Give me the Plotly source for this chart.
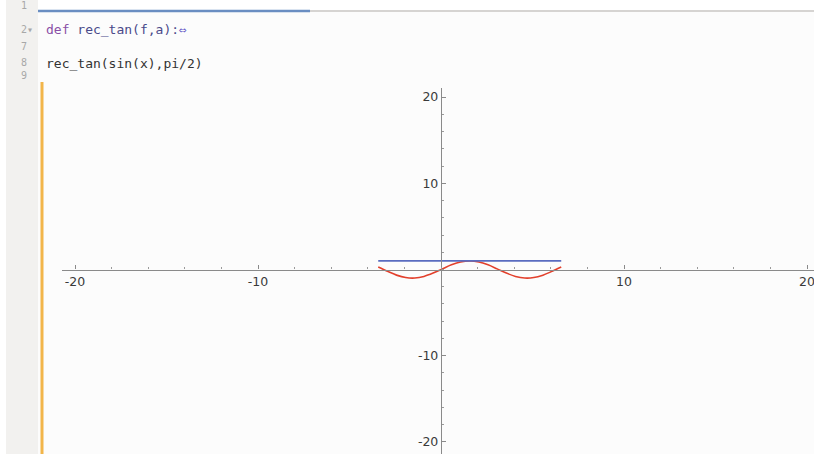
import plotly.graph_objects as go

# ---- data ----
curve_x = [-3.43, -2.93, -2.43, -1.93, -1.43, -0.93, -0.43, 0.07, 0.57, 1.07, 1.57,
           2.07, 2.57, 3.07, 3.57, 4.07, 4.57, 5.07, 5.57, 6.07, 6.57]
curve_y = [0.284, -0.210, -0.653, -0.936, -0.990, -0.802, -0.417, 0.070, 0.540, 0.877, 1.000,
           0.878, 0.541, 0.072, -0.415, -0.801, -0.990, -0.937, -0.654, -0.211, 0.283]
tangent_x = [-3.43, 6.57]
tangent_y = [1.0, 1.0]
x_ticks = [-20, -10, 10, 20]
x_tick_labels = ["-20", "-10", "10", "20"]
y_ticks = [-20, -10, 10, 20]
y_tick_labels = ["-20", "-10", "10", "20"]
line_numbers = ["1", "2▾", "7", "8", "9"]
line_number_y = [6, 30, 46, 63, 76]

W, H = 814, 454
x0_px, xscale = 441, 18.3
y0_px, yscale = 269.5, 8.62
x_left_px, y_top_px = 62, 88
xr = [(x_left_px - x0_px) / xscale, (W - x0_px) / xscale]
yr = [-(H - y0_px) / yscale, (y0_px - y_top_px) / yscale]

fig = go.Figure()
fig.add_trace(go.Scatter(x=curve_x, y=curve_y, mode="lines", line=dict(color="#e2402c", width=1.6, shape="spline"), hoverinfo="skip"))
fig.add_trace(go.Scatter(x=tangent_x, y=tangent_y, mode="lines", line=dict(color="#5a6cc0", width=1.8), hoverinfo="skip"))

axis_common = dict(showgrid=False, zeroline=False, showline=True, linecolor="#8a8a8a", linewidth=1.4,
                   ticks="inside", ticklen=4, tickcolor="#8a8a8a", tickwidth=1,
                   ticklabeloverflow="allow",
                   tickfont=dict(family="DejaVu Sans", size=12.5, color="#3a3a3a"),
                   minor=dict(dtick=2, ticks="inside", ticklen=2, tickcolor="#9a9a9a"))

fig.update_layout(
    width=W, height=H, margin=dict(l=0, r=0, t=0, b=0),
    paper_bgcolor="white", plot_bgcolor="rgba(0,0,0,0)", showlegend=False,
    xaxis=dict(range=xr, tickvals=x_ticks, ticktext=x_tick_labels, anchor="free", position=(H - y0_px) / H,
               domain=[x_left_px / W, 1], **axis_common),
    yaxis=dict(range=yr, tickvals=y_ticks, ticktext=y_tick_labels, anchor="free", position=x0_px / W,
               domain=[0, 1 - y_top_px / H], **axis_common),
)

def px(x):
    return x / W

def py(y):
    return 1 - y / H

shapes = [
    dict(type="rect", xref="paper", yref="paper", x0=px(6), x1=px(38), y0=0, y1=1, fillcolor="#f2f1ef", line_width=0, layer="below"),
    dict(type="rect", xref="paper", yref="paper", x0=px(38), x1=1, y0=0, y1=py(12), fillcolor="#fcfcfc", line_width=0, layer="below"),
    dict(type="line", xref="paper", yref="paper", x0=px(38), x1=1, y0=py(11), y1=py(11), line=dict(color="#d6d4d2", width=2)),
    dict(type="line", xref="paper", yref="paper", x0=px(38), x1=px(310), y0=py(11), y1=py(11), line=dict(color="#6a8ec2", width=2.5)),
    dict(type="line", xref="paper", yref="paper", x0=px(42), x1=px(42), y0=0, y1=py(82), line=dict(color="#f2b54a", width=3)),
]
fig.update_layout(shapes=shapes)

ann = []
for t, yy in zip(line_numbers, line_number_y):
    ann.append(dict(text=t, xref="paper", yref="paper", x=px(19), y=py(yy), xanchor="left", yanchor="middle",
                    showarrow=False, font=dict(family="DejaVu Sans Mono", size=10, color="#a8a8a8")))
ann.append(dict(text="<span style='color:#8a4fa6'>def</span> <span style='color:#4a4a8a'>rec_tan(f,a):</span><span style='color:#6a5cc8'>⇔</span>",
                xref="paper", yref="paper", x=px(44), y=py(30), xanchor="left", yanchor="middle", showarrow=False,
                font=dict(family="DejaVu Sans Mono", size=13, color="#4a4a8a")))
ann.append(dict(text="rec_tan(sin(x),pi/2)", xref="paper", yref="paper", x=px(44), y=py(64), xanchor="left", yanchor="middle",
                showarrow=False, font=dict(family="DejaVu Sans Mono", size=13, color="#333333")))
fig.update_layout(annotations=ann)

fig.write_html("out.html", config={"displayModeBar": False},
               post_script="document.body.style.margin='0';document.body.style.overflow='hidden';")
